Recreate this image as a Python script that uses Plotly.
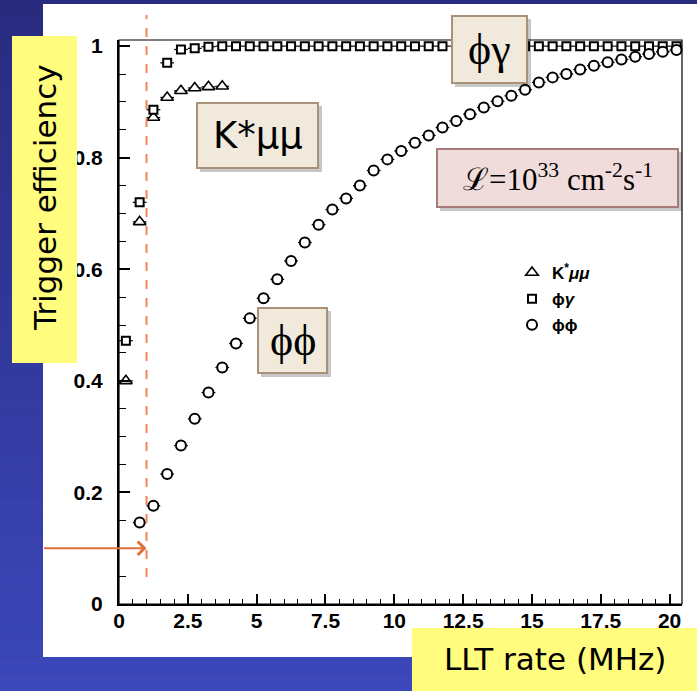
import plotly.graph_objects as go

# ---- Trigger efficiency vs LLT rate, 0.5 MHz bins ----
kmm_rate = [0.25, 0.75, 1.25, 1.75, 2.25, 2.75, 3.25, 3.75]
kmm_eff = [0.400, 0.685, 0.872, 0.908, 0.920, 0.925, 0.927, 0.928]

phig_rate = [0.25, 0.75, 1.25, 1.75, 2.25, 2.75, 3.25, 3.75, 4.25, 4.75,
             5.25, 5.75, 6.25, 6.75, 7.25, 7.75, 8.25, 8.75, 9.25, 9.75,
             10.25, 10.75, 11.25, 11.75, 12.25, 12.75, 13.25, 13.75, 14.25, 14.75,
             15.25, 15.75, 16.25, 16.75, 17.25, 17.75, 18.25, 18.75, 19.25, 19.75,
             20.25]
phig_eff = [0.472, 0.720, 0.886, 0.970, 0.994, 0.996, 0.999, 1.0, 1.0, 1.0,
            1.0, 1.0, 1.0, 1.0, 1.0, 1.0, 1.0, 1.0, 1.0, 1.0,
            1.0, 1.0, 1.0, 1.0, 1.0, 1.0, 1.0, 1.0, 1.0, 1.0,
            1.0, 1.0, 1.0, 1.0, 1.0, 1.0, 1.0, 1.0, 1.0, 1.0,
            1.0]

phiphi_rate = [0.75, 1.25, 1.75, 2.25, 2.75, 3.25, 3.75, 4.25, 4.75,
               5.25, 5.75, 6.25, 6.75, 7.25, 7.75, 8.25, 8.75, 9.25, 9.75,
               10.25, 10.75, 11.25, 11.75, 12.25, 12.75, 13.25, 13.75, 14.25, 14.75,
               15.25, 15.75, 16.25, 16.75, 17.25, 17.75, 18.25, 18.75, 19.25, 19.75,
               20.25]
phiphi_eff = [0.146, 0.176, 0.233, 0.284, 0.332, 0.379, 0.424, 0.467, 0.512,
              0.548, 0.582, 0.615, 0.648, 0.680, 0.707, 0.727, 0.750, 0.777, 0.797,
              0.812, 0.827, 0.840, 0.854, 0.866, 0.878, 0.890, 0.901, 0.911, 0.922,
              0.935, 0.944, 0.950, 0.958, 0.965, 0.971, 0.976, 0.981, 0.986, 0.990,
              0.993]

bin_half = 0.25          # half bin width drawn as horizontal error bar
rate_cut = 1.0           # LLT rate working point (MHz)
eff_mark = 0.1

x_range = [0.0, 20.45]
y_range = [0.0, 1.011]

# ---- page geometry (pixels) ----
W, H = 697, 691
ML, MR, MT, MB = 119, 15, 40, 87
PW, PH = W - ML - MR, H - MT - MB


def xp(px):
    return (px - ML) / PW


def yp(py):
    return (H - MB - py) / PH


fig = go.Figure()

err = dict(type="constant", value=bin_half, color="black", thickness=1.2, width=0)

fig.add_trace(go.Scatter(
    x=kmm_rate, y=kmm_eff, mode="markers", name="K<sup>*</sup><i>μμ</i>",
    error_x=err, legendgroup="a",
    marker=dict(symbol="triangle-up", size=11, color="white",
                line=dict(color="black", width=1.6))))
fig.add_trace(go.Scatter(
    x=phig_rate, y=phig_eff, mode="markers", name="ϕ<i>γ</i>",
    error_x=err, legendgroup="b", cliponaxis=False,
    marker=dict(symbol="square", size=8, color="white",
                line=dict(color="black", width=2))))
fig.add_trace(go.Scatter(
    x=phiphi_rate, y=phiphi_eff, mode="markers", name="ϕϕ",
    error_x=err, legendgroup="c", cliponaxis=False,
    marker=dict(symbol="circle", size=10, color="white",
                line=dict(color="black", width=2))))

shapes = []
# blue slide background, darker at the top
n_strips = 40
y_top, y_bot = yp(0), yp(H)
c_top = (40, 43, 126)
c_bot = (60, 71, 186)
for i in range(n_strips):
    t = i / (n_strips - 1)
    col = tuple(int(round(a + (b - a) * t)) for a, b in zip(c_top, c_bot))
    y0 = y_top + (y_bot - y_top) * i / n_strips
    y1 = y_top + (y_bot - y_top) * (i + 1) / n_strips
    shapes.append(dict(type="rect", xref="paper", yref="paper", layer="below",
                       x0=xp(0), x1=xp(W), y0=y0, y1=y1,
                       fillcolor="rgb(%d,%d,%d)" % col, line=dict(width=0)))
# white chart panel
shapes.append(dict(type="rect", xref="paper", yref="paper", layer="below",
                   x0=xp(43), x1=xp(W), y0=yp(657), y1=yp(4),
                   fillcolor="white", line=dict(width=0)))
# thin frame on top/right
shapes.append(dict(type="rect", xref="paper", yref="paper", layer="above",
                   x0=0, x1=1, y0=0, y1=1, line=dict(color="black", width=1.2)))
# rate cut line
shapes.append(dict(type="line", xref="x", yref="paper", layer="above",
                   x0=rate_cut, x1=rate_cut, y0=yp(577), y1=yp(15),
                   line=dict(color="#ee8655", width=2, dash="dash")))

annotations = []


def label_box(x0, y0, x1, y1, fill, border, text, font, shadow=True):
    if shadow:
        shapes.append(dict(type="rect", xref="paper", yref="paper", layer="above",
                           x0=xp(x0 + 3), x1=xp(x1 + 4), y0=yp(y1 + 4), y1=yp(y0 + 3),
                           fillcolor="rgba(0,0,0,0.22)", line=dict(width=0)))
    shapes.append(dict(type="rect", xref="paper", yref="paper", layer="above",
                       x0=xp(x0), x1=xp(x1), y0=yp(y1), y1=yp(y0),
                       fillcolor=fill, line=dict(color=border, width=2)))
    annotations.append(dict(xref="paper", yref="paper", x=xp((x0 + x1) / 2),
                            y=yp((y0 + y1) / 2), text=text, showarrow=False,
                            xanchor="center", yanchor="middle", font=font))


beige, beige_border = "#f1eadc", "#a8927a"
label_box(197, 103, 318, 168, beige, beige_border, "K*μμ",
          dict(family="DejaVu Sans", size=37, color="black"))
label_box(452, 16, 527, 83, beige, beige_border, "ϕγ",
          dict(family="Liberation Serif", size=44, color="black"))
label_box(258, 308, 327, 373, beige, beige_border, "ϕϕ",
          dict(family="Liberation Serif", size=44, color="black"))
label_box(437, 149, 678, 207, "#f1dcdc", "#a67c78",
          "ℒ=10<sup>33</sup> cm<sup>-2</sup>s<sup>-1</sup>",
          dict(family="Liberation Serif", size=31, color="black"))

# yellow axis captions
shapes.append(dict(type="rect", xref="paper", yref="paper", layer="above",
                   x0=xp(12), x1=xp(77), y0=yp(363), y1=yp(36),
                   fillcolor="#fffc7e", line=dict(width=0)))
annotations.append(dict(xref="paper", yref="paper", x=xp(45), y=yp(198),
                        text="Trigger efficiency", textangle=-90, showarrow=False,
                        xanchor="center", yanchor="middle",
                        font=dict(family="DejaVu Sans", size=31, color="black")))
shapes.append(dict(type="rect", xref="paper", yref="paper", layer="above",
                   x0=xp(412), x1=xp(W), y0=yp(H), y1=yp(628),
                   fillcolor="#fffc7e", line=dict(width=0)))
annotations.append(dict(xref="paper", yref="paper", x=xp(555), y=yp(659),
                        text="LLT rate (MHz)", showarrow=False,
                        xanchor="center", yanchor="middle",
                        font=dict(family="DejaVu Sans", size=31, color="black")))

# arrow pointing at the working point
annotations.append(dict(xref="x", yref="y", x=rate_cut, y=eff_mark, text="",
                        showarrow=True, ax=-104, ay=0, arrowhead=4, arrowsize=1.3,
                        arrowwidth=2, arrowcolor="#e0703a"))

tickfont = dict(family="Liberation Sans", size=21, color="black", weight="bold")

fig.update_layout(
    width=W, height=H,
    margin=dict(l=ML, r=MR, t=MT, b=MB),
    paper_bgcolor="rgb(50,57,156)",
    plot_bgcolor="rgba(0,0,0,0)",
    shapes=shapes,
    annotations=annotations,
    showlegend=True,
    legend=dict(x=xp(512), y=yp(255), xanchor="left", yanchor="top",
                bgcolor="rgba(0,0,0,0)", traceorder="grouped", tracegroupgap=1,
                font=dict(family="Liberation Sans", size=17, color="black",
                          weight="bold")),
    xaxis=dict(range=x_range, dtick=2.5, tick0=0, showgrid=False, zeroline=False,
               ticks="inside", ticklen=10, tickwidth=1.5, tickcolor="black",
               showline=True, linecolor="black", linewidth=2,
               tickfont=tickfont, ticklabelstandoff=-3,
               minor=dict(dtick=0.5, tick0=0, ticks="inside", ticklen=5,
                          tickwidth=1.3, tickcolor="black", showgrid=False)),
    yaxis=dict(range=y_range, dtick=0.2, tick0=0, showgrid=False, zeroline=False,
               ticks="inside", ticklen=11, tickwidth=1.5, tickcolor="black",
               showline=True, linecolor="black", linewidth=2,
               tickfont=tickfont, ticklabelstandoff=10,
               minor=dict(dtick=0.05, tick0=0, ticks="inside", ticklen=7,
                          tickwidth=1.3, tickcolor="black", showgrid=False)),
)

fig.write_html("out.html")
